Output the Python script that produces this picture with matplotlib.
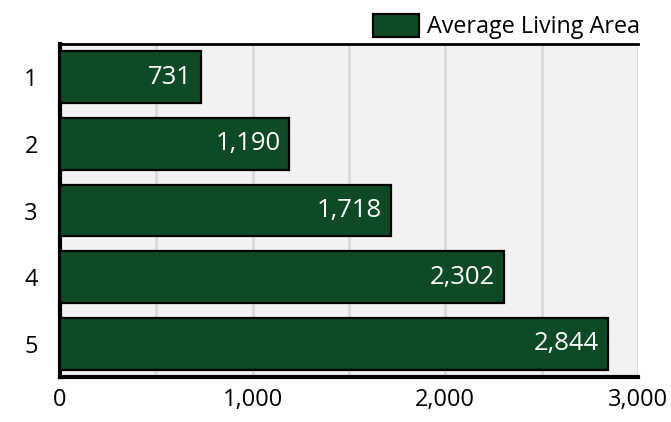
import matplotlib.pyplot as plt
from matplotlib.ticker import FuncFormatter, MultipleLocator

plt.rcParams['font.family'] = ['Open Sans', 'DejaVu Sans']

categories = ["1", "2", "3", "4", "5"]
living_area = [731, 1190, 1718, 2302, 2844]
x_ticks = [0, 1000, 2000, 3000]

fig = plt.figure(figsize=(6.71, 4.22), dpi=100)
ax = fig.add_axes([60 / 671, 1 - 377 / 422, 578 / 671, 333 / 422])
ax.set_facecolor("#f2f2f2")

bars = ax.barh(categories, living_area, height=0.78, color="#0f4a26",
               edgecolor="black", linewidth=1.6, zorder=3,
               label="Average Living Area")

for bar, val in zip(bars, living_area):
    ax.text(val - 45, bar.get_y() + bar.get_height() / 2, f"{val:,}",
            ha="right", va="center", color="white", fontsize=18.5, zorder=4)

ax.set_xlim(0, 3000)
ax.set_ylim(4.5, -0.5)
ax.set_xticks(x_ticks)
ax.xaxis.set_major_formatter(FuncFormatter(lambda v, p: f"{int(v):,}"))
ax.xaxis.set_minor_locator(MultipleLocator(500))
ax.grid(axis="x", which="both", color="#dadada", linewidth=2, zorder=0)
ax.tick_params(axis="both", which="both", length=0, labelsize=17, pad=8)
ax.tick_params(axis="y", pad=16)

for side in ["left", "bottom"]:
    ax.spines[side].set_linewidth(3)
    ax.spines[side].set_color("black")
ax.spines["top"].set_linewidth(2)
ax.spines["right"].set_visible(False)

fig.legend(loc="upper right", bbox_to_anchor=(0.985, 1.017), frameon=False,
           fontsize=16.8, handlelength=1.95, handleheight=1.15, handletextpad=0.35)

plt.savefig("out.png", dpi=100)
